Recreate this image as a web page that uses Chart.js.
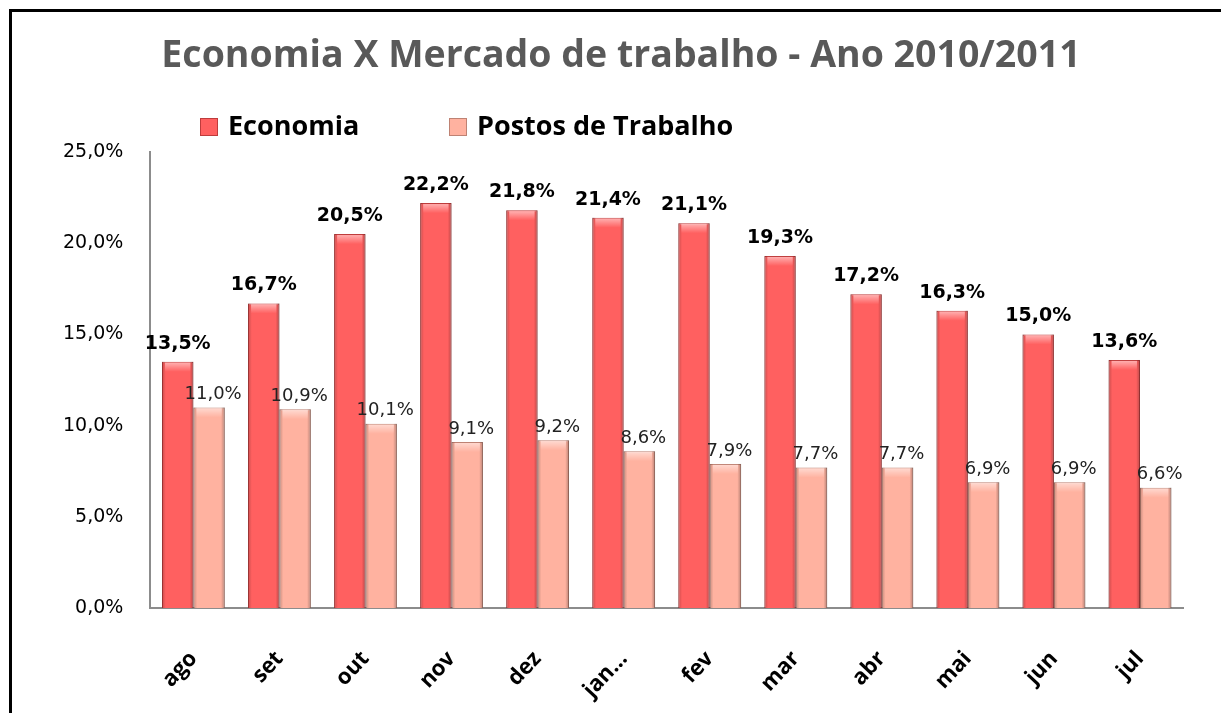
<!DOCTYPE html>
<html>
<head>
<meta charset="utf-8">
<script src="https://cdn.jsdelivr.net/npm/chart.js@4.4.1/dist/chart.umd.min.js"></script>
<style>
    html, body { margin: 0; padding: 0; background: #fff; }
    #wrap { position: relative; width: 1221px; height: 713px; }
    #frame {
        position: absolute; left: 9px; top: 9px; right: 0; bottom: 0;
        border-top: 3px solid #000; border-left: 3px solid #000;
        pointer-events: none;
    }
</style>
</head>
<body>
<div id="wrap">
    <canvas id="myChart"></canvas>
    <div id="frame"></div>
</div>
<script>
const chartTitle = 'Economia X Mercado de trabalho - Ano 2010/2011';
const months = ['ago', 'set', 'out', 'nov', 'dez', 'jan...', 'fev', 'mar', 'abr', 'mai', 'jun', 'jul'];
const economia = [13.5, 16.7, 20.5, 22.2, 21.8, 21.4, 21.1, 19.3, 17.2, 16.3, 15.0, 13.6];
const postos = [11.0, 10.9, 10.1, 9.1, 9.2, 8.6, 7.9, 7.7, 7.7, 6.9, 6.9, 6.6];
const yTicks = [0, 5, 10, 15, 20, 25];

function pct(v) {
    return v.toFixed(1).replace('.', ',') + '%';
}

// soft bevel on the bars (dark sides, light cap)
const bevel = {
    id: 'bevel',
    afterDatasetsDraw(chart) {
        const ctx = chart.ctx;
        ctx.save();
        chart.data.datasets.forEach((ds, i) => {
            chart.getDatasetMeta(i).data.forEach(bar => {
                const left = bar.x - bar.width / 2;
                const top = bar.y;
                const h = bar.base - bar.y;
                const g = ctx.createLinearGradient(left, 0, left + bar.width, 0);
                g.addColorStop(0, 'rgba(0,0,0,0.22)');
                g.addColorStop(0.12, 'rgba(0,0,0,0)');
                g.addColorStop(0.88, 'rgba(0,0,0,0)');
                g.addColorStop(1, 'rgba(0,0,0,0.28)');
                ctx.fillStyle = g;
                ctx.fillRect(left, top, bar.width, h);
                const c = ctx.createLinearGradient(0, top, 0, top + 10);
                c.addColorStop(0, 'rgba(255,255,255,0.55)');
                c.addColorStop(1, 'rgba(255,255,255,0)');
                ctx.fillStyle = c;
                ctx.fillRect(left + 3, top + 1, bar.width - 6, 10);
            });
        });
        ctx.restore();
    }
};

// value labels above the bars
const barLabels = {
    id: 'barLabels',
    afterDatasetsDraw(chart) {
        const ctx = chart.ctx;
        ctx.save();
        ctx.textAlign = 'center';
        ctx.textBaseline = 'middle';
        chart.data.datasets.forEach((ds, i) => {
            const meta = chart.getDatasetMeta(i);
            ctx.font = i === 0 ? 'bold 19px "DejaVu Sans"' : '18px "DejaVu Sans"';
            ctx.fillStyle = i === 0 ? '#000' : '#222';
            meta.data.forEach((bar, j) => {
                const dy = i === 0 ? 18 : 13;
                const dx = i === 0 ? 0 : 4;
                ctx.fillText(pct(ds.data[j]), bar.x + dx, bar.y - dy);
            });
        });
        ctx.restore();
    }
};

// title + legend placed like the original
const header = {
    id: 'header',
    afterDraw(chart) {
        const ctx = chart.ctx;
        ctx.save();
        ctx.font = 'bold 37.5px "Open Sans"';
        ctx.fillStyle = '#595959';
        ctx.textAlign = 'center';
        ctx.textBaseline = 'middle';
        ctx.fillText(chartTitle, 621, 56);

        const xs = [200, 449];
        const y = 127;
        ctx.font = 'bold 27px "Open Sans"';
        ctx.textAlign = 'left';
        chart.data.datasets.forEach((ds, i) => {
            ctx.fillStyle = ds.backgroundColor;
            ctx.fillRect(xs[i], y - 9, 18, 18);
            ctx.strokeStyle = ds.borderColor;
            ctx.lineWidth = 1;
            ctx.strokeRect(xs[i] + 0.5, y - 8.5, 17, 17);
            ctx.fillStyle = '#000';
            ctx.fillText(ds.label, xs[i] + 28, y);
        });
        ctx.restore();
    }
};

const ctx = document.getElementById('myChart').getContext('2d');
new Chart(ctx, {
    type: 'bar',
    data: {
        labels: months,
        datasets: [{
            label: 'Economia',
            data: economia,
            backgroundColor: 'rgb(255, 96, 96)',
            borderColor: 'rgb(190, 60, 60)',
            borderWidth: 1
        }, {
            label: 'Postos de Trabalho',
            data: postos,
            backgroundColor: 'rgb(255, 178, 160)',
            borderColor: 'rgb(190, 130, 115)',
            borderWidth: 1
        }]
    },
    options: {
        responsive: true,
        maintainAspectRatio: false,
        animation: false,
        categoryPercentage: 0.73,
        barPercentage: 1.0,
        layout: {
            padding: { left: 36, right: 38, top: 152, bottom: -28 }
        },
        plugins: {
            legend: { display: false },
            tooltip: { enabled: false },
            title: { display: false }
        },
        scales: {
            x: {
                grid: { display: false, drawTicks: false },
                border: { display: true, color: '#8c8c8c', width: 2 },
                ticks: {
                    color: '#000',
                    font: { family: 'Open Sans', size: 22, weight: 'bold' },
                    minRotation: 47,
                    maxRotation: 47,
                    autoSkip: false,
                    padding: 38
                }
            },
            y: {
                min: 0,
                max: 25,
                afterBuildTicks: (axis) => {
                    axis.ticks = yTicks.map(v => ({ value: v }));
                },
                grid: { display: false, drawTicks: false },
                border: { display: true, color: '#8c8c8c', width: 2 },
                ticks: {
                    color: '#000',
                    font: { family: 'DejaVu Sans', size: 19 },
                    padding: 27,
                    callback: (v) => pct(v)
                }
            }
        }
    },
    plugins: [bevel, barLabels, header]
});
</script>
</body>
</html>
